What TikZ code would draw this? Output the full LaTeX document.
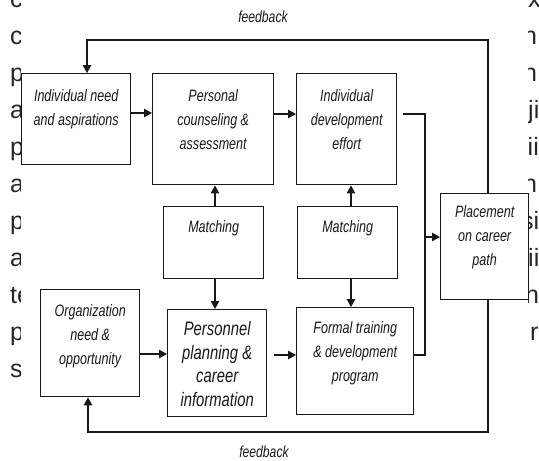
\documentclass[tikz,border=0pt]{standalone}
\usepackage{fontspec}
\setmainfont{Liberation Sans}
\newfontfamily\dfont[FakeStretch=0.76]{Liberation Sans}
\usetikzlibrary{arrows.meta}
\begin{document}
\begin{tikzpicture}[x=1pt,y=-1pt,
  box/.style={draw=black!90, line width=1.4pt, fill=white, anchor=north west, inner sep=0pt},
  lbl/.style={anchor=north, inner sep=0pt, align=center, font=\dfont\itshape\fontsize{16.5}{24}\selectfont, text=black!90},
  biglbl/.style={lbl, font=\dfont\itshape\fontsize{19.5}{23.5}\selectfont},
  fb/.style={inner sep=0pt, font=\dfont\itshape\fontsize{16}{18}\selectfont, text=black!90},
  conn/.style={line width=1.3pt, draw=black!90},
  arr/.style={conn, -{Triangle[length=8pt,width=8.5pt]}},
  bg/.style={anchor=base west, inner sep=0pt, font=\fontsize{25}{30}\selectfont, text=black!85}]
\useasboundingbox (0,0) rectangle (539,461);

% background text fragments (left edge)
\begin{scope}
\clip (0,0) rectangle (20.5,461);
\node[bg] (l0) at (10,7.5) {c};
\node[bg] (l1) at (10,44.5) {c};
\node[bg] (l2) at (10,81.5) {p};
\node[bg] (l3) at (10,118.5) {a};
\node[bg] (l4) at (10,155.5) {p};
\node[bg] (l5) at (10,192.5) {a};
\node[bg] (l6) at (10,229.5) {p};
\node[bg] (l7) at (10,266.5) {a};
\node[bg] (l8) at (10,303.5) {te};
\node[bg] (l9) at (10,340.5) {p};
\node[bg] (l10) at (10,377.5) {s};
\end{scope}
% background text fragments (right edge)
\begin{scope}
\clip (528.6,0) rectangle (539,461);
\node[bg] (r0) at (528,7.5) {x};
\node[bg] (r1) at (523,44.5) {n};
\node[bg] (r2) at (523,81.5) {n};
\node[bg] (r3) at (528,118.5) {ji};
\node[bg] (r4) at (527.5,155.5) {ii};
\node[bg] (r5) at (523,192.5) {n};
\node[bg] (r6) at (521,229.5) {si};
\node[bg] (r7) at (528,266.5) {ii};
\node[bg] (r8) at (525,303.5) {n};
\node[bg] (r9) at (530,340.5) {r};
\end{scope}

% boxes
\node[box, minimum width=109pt, minimum height=91pt] (b1) at (21,73) {};
\node[box, minimum width=121pt, minimum height=111pt] (b2) at (152,73) {};
\node[box, minimum width=100pt, minimum height=111pt] (b3) at (296,73) {};
\node[box, minimum width=100pt, minimum height=72pt] (m1) at (163,206) {};
\node[box, minimum width=100pt, minimum height=72pt] (m2) at (297,206) {};
\node[box, minimum width=88pt, minimum height=106pt] (pl) at (440,193) {};
\node[box, minimum width=99pt, minimum height=107pt] (org) at (40,289) {};
\node[box, minimum width=99pt, minimum height=107pt] (pp) at (167,309) {};
\node[box, minimum width=117pt, minimum height=107pt] (ft) at (296,307) {};

% labels
\node[lbl] (b1t) at ([yshift=-11pt]b1.north) {\strut Individual need\\and aspirations};
\node[lbl] (b2t) at ([yshift=-11pt]b2.north) {\strut Personal\\counseling \&\\assessment};
\node[lbl] (b3t) at ([yshift=-11pt]b3.north) {\strut Individual\\development\\effort};
\node[lbl] (m1t) at ([yshift=-9pt]m1.north) {\strut Matching};
\node[lbl] (m2t) at ([yshift=-9pt]m2.north) {\strut Matching};
\node[lbl] (plt) at ([yshift=-7pt]pl.north) {\strut Placement\\on career\\path};
\node[lbl] (orgt) at ([yshift=-10pt]org.north) {\strut Organization\\need \&\\opportunity};
\node[biglbl] (ppt) at ([yshift=-10pt]pp.north) {\strut Personnel\\planning \&\\career\\information};
\node[lbl] (ftt) at ([yshift=-9pt]ft.north) {\strut Formal training\\\& development\\program};

\node[fb] (fbtop) at (263,17) {feedback};
\node[fb] (fbbot) at (264,452) {feedback};

% connectors
\coordinate (tr) at (488,40);
\coordinate (tl) at (87,40);
\coordinate (br) at (488,432);
\coordinate (bl) at (88,432);
\coordinate (c1) at (425,114);
\coordinate (c2) at (425,355);
\coordinate (c3) at (425,237);

\draw[arr] (pl.north -| tr) -- (tr) -- (tl) -- (b1.north -| tl);
\draw[arr] (pl.south -| br) -- (br) -- (bl) -- (org.south -| bl);

\draw[arr] (b1.east |- 0,113) -- (b2.west |- 0,113);
\draw[arr] (b2.east |- 0,114) -- (b3.west |- 0,114);
\draw[conn] ([xshift=6pt]b3.east |- c1) -- (c1) -- (c2) -- (ft.east |- c2);
\draw[arr] (c3) -- (pl.west |- c3);

\draw[arr] (m1.north -| 215,0) -- (b2.south -| 215,0);
\draw[arr] (m1.south -| 215,0) -- (pp.north -| 215,0);
\draw[arr] (m2.north -| 351,0) -- (b3.south -| 351,0);
\draw[arr] (m2.south -| 351,0) -- (ft.north -| 351,0);

\draw[arr] (org.east |- 0,354) -- (pp.west |- 0,354);
\draw[arr] ([xshift=7pt]pp.east |- 0,355) -- (ft.west |- 0,355);
\end{tikzpicture}
\end{document}
